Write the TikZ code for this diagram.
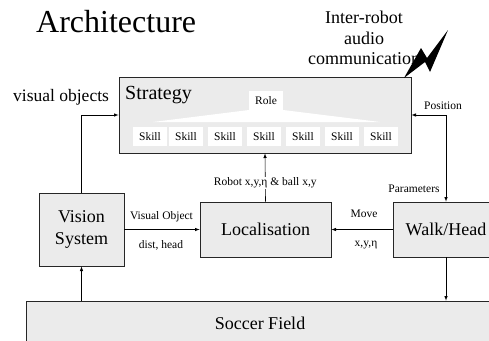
\documentclass[tikz,border=0pt]{standalone}
\usepackage{fontspec}
\setmainfont{Liberation Serif}
\usetikzlibrary{arrows}

\tikzset{
  box/.style={draw=black!85, line width=0.8pt, fill=black!8, inner sep=0pt,
    font=\fontsize{18}{22}\selectfont, align=center},
  skillbox/.style={fill=white, minimum width=34pt, minimum height=19pt,
    inner sep=0pt, font=\fontsize{11.5}{13}\selectfont},
  lbl/.style={inner sep=1pt, font=\fontsize{11.5}{13}\selectfont},
  flow/.style={-latex, line width=0.6pt},
}

\begin{document}
\begin{tikzpicture}[x=1pt,y=-1pt]
\useasboundingbox (0,0) rectangle (489,340);
% title and strategy block
\node[anchor=base west, inner sep=0pt, font=\fontsize{32}{36}\selectfont] (title) at (36,32) {Architecture};
\node[box, minimum width=292pt, minimum height=76pt] (strategy) at (265,115) {};
\node[anchor=base west, inner sep=0pt, font=\fontsize{20}{24}\selectfont] (strattext) at (125,99) {Strategy};
\fill[white] (249,110) -- (283,110) -- (380,122) -- (153,122) -- cycle;
\node[skillbox] (role) at (266,100.5) {Role};
\foreach \x [count=\i] in {150,186,225,264,303,342,381}
  \node[skillbox] (skill\i) at (\x,136.5) {Skill};
% communication
\node[align=center, inner sep=0pt, font=\fontsize{18}{20.5}\selectfont, anchor=north] (comm) at (364,11) {Inter-robot\\audio\\communication};
\fill (404,78) -- (421,48) -- (427,58) -- (448,30) -- (430,72) -- (425,62) -- cycle;
\node[anchor=base west, inner sep=0pt, font=\fontsize{17.5}{20}\selectfont] (vislbl) at (13,101) {visual objects};
% lower blocks
\node[box, minimum width=85pt, minimum height=73pt] (vision) at (81.5,229.5) {Vision\\System};
\node[box, minimum width=131pt, minimum height=55pt] (loc) at (265.5,229.5) {Localisation};
\node[box, minimum width=106pt, minimum height=55pt] (walk) at (446,229.5) {Walk/Head};
\node[box, minimum width=468pt, minimum height=44pt] (field) at (260,323) {Soccer Field};
% connectors
\draw[flow] (vision.north) |- (strategy.west);
\draw[flow] (vision.south |- field.north) -- (vision.south);
\draw[flow] (walk.south) -- (walk.south |- field.north);
\draw[flow] (vision.east) -- (loc.west);
\draw[flow] (walk.west) -- (loc.east);
\draw[flow] (loc.north) -- node[lbl, fill=white, pos=0.39] (robpos) {Robot x,y,η \& ball x,y} (strategy.south);
\draw[latex-latex, line width=0.6pt] (strategy.east) -| (walk.north);
% labels
\node[lbl] (visobj) at (161.5,217) {Visual Object};
\node[lbl] (dist) at (161,245) {dist, head};
\node[lbl] (move) at (364,214) {Move};
\node[lbl] (xyeta) at (366,245) {x,y,η};
\node[lbl] (poslbl) at (443,106) {Position};
\node[lbl] (params) at (414,189) {Parameters};
\end{tikzpicture}
\end{document}
